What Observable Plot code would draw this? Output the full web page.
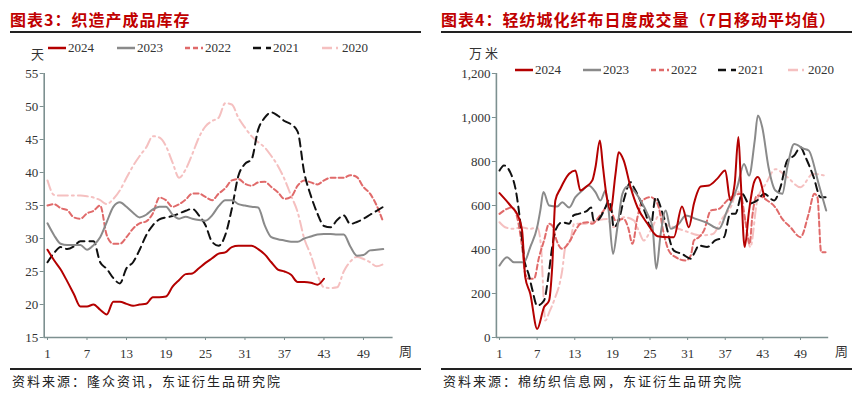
<!DOCTYPE html>
<html>
<head>
<meta charset="utf-8">
<script src="https://cdn.jsdelivr.net/npm/d3@7"></script>
<script src="https://cdn.jsdelivr.net/npm/@observablehq/plot@0.6"></script>
<style>
  html, body { margin: 0; padding: 0; background: #fff; }
  body { width: 862px; height: 396px; position: relative; overflow: hidden; }
  .panel { position: absolute; top: 0; width: 431px; height: 396px; }
  .title { position: absolute; top: 8px; left: 10px; font-family: "Noto Sans CJK SC"; font-weight: 700; font-size: 16px; letter-spacing: 1px; color: #c00000; white-space: nowrap; line-height: 22px; }
  .rule { position: absolute; left: 10px; width: 411px; height: 1.5px; background: #222; }
  .caption { position: absolute; top: 372px; left: 12px; font-family: "Noto Sans CJK SC"; font-size: 13px; letter-spacing: 2px; color: #222; white-space: nowrap; line-height: 18px; }
  .plot { position: absolute; top: 36px; left: 0; }
  .unit { position: absolute; font-family: "Noto Sans CJK SC"; font-size: 13px; color: #333; white-space: nowrap; line-height: 16px; }
  .leg { position: absolute; font-family: "Liberation Serif"; font-size: 13px; color: #333; white-space: nowrap; line-height: 16px; display: flex; align-items: center; }
  .leg svg { margin-right: 2px; }
</style>
</head>
<body>
<div class="panel" id="p1" style="left:0">
  <div class="title">图表3：织造产成品库存</div>
  <div class="rule" style="top:31px"></div>
  <div class="plot" id="plot1"></div>
  <div class="unit" style="left:31px;top:46px">天</div>
  <div class="unit" style="left:399px;top:343px">周</div>
  <div class="rule" style="top:368px"></div>
  <div class="caption">资料来源：隆众资讯，东证衍生品研究院</div>
</div>
<div class="panel" id="p2" style="left:431px">
  <div class="title">图表4：轻纺城化纤布日度成交量（7日移动平均值）</div>
  <div class="rule" style="top:31px"></div>
  <div class="plot" id="plot2"></div>
  <div class="unit" style="left:38px;top:45px;letter-spacing:3px">万米</div>
  <div class="unit" style="left:404px;top:343px">周</div>
  <div class="rule" style="top:368px"></div>
  <div class="caption">资料来源：棉纺织信息网，东证衍生品研究院</div>
</div>
<script>
// ---------- Chart 3: 织造产成品库存 (天) ----------
const invYears = ["2024", "2023", "2022", "2021", "2020"];
const invWeekTicks = [1, 7, 13, 19, 25, 31, 37, 43, 49];
const invYTicks = [15, 20, 25, 30, 35, 40, 45, 50, 55];
const inv2024 = [28.3,26.7,25.3,23.5,21.6,19.7,19.7,20.0,19.2,18.5,20.4,20.4,20.1,19.8,20.0,20.1,21.1,21.1,21.2,22.7,23.7,24.6,24.7,25.5,26.3,27.0,27.7,27.9,28.7,28.9,28.9,28.9,28.4,27.6,26.4,25.3,25.0,24.5,23.4,23.4,23.3,23.0,23.9];
const inv2023 = [32.3,30.5,29.2,29.0,29.0,29.0,28.3,29.0,30.2,32.5,34.8,35.5,34.8,33.9,33.2,33.6,34.4,34.8,34.8,33.6,33.0,33.3,33.0,32.8,32.7,33.5,34.9,35.8,35.8,35.2,35.0,34.8,34.7,32.0,30.2,29.9,29.7,29.5,29.5,30.0,30.3,30.6,30.7,30.7,30.6,30.6,28.8,27.4,27.5,28.2,28.3,28.4];
const inv2022 = [35.0,35.2,34.6,34.3,33.2,33.0,33.8,34.2,35.0,30.5,29.2,29.2,30.2,31.5,32.3,32.6,33.8,36.2,35.8,34.8,35.2,35.9,36.8,36.8,36.3,35.8,36.8,37.6,38.8,39.0,38.3,38.0,38.5,38.6,37.8,37.0,36.0,36.3,38.0,38.8,38.5,38.2,38.8,39.2,39.2,39.2,39.6,39.3,37.8,36.8,35.0,32.5];
const inv2021 = [26.4,27.8,28.7,28.4,28.8,29.6,29.6,29.6,26.4,25.4,24.0,23.2,25.5,26.4,28.3,30.5,32.0,32.9,33.2,33.4,33.8,34.2,34.5,33.5,32.0,29.5,28.9,30.5,34.5,39.5,41.3,42.0,46.5,48.3,49.1,48.6,47.8,47.3,46.2,40.0,36.5,33.8,31.9,31.7,32.8,33.5,32.2,32.5,33.0,33.6,34.2,34.8];
const inv2020 = [38.8,36.6,36.5,36.5,36.5,36.5,36.4,36.2,35.8,35.2,36.0,37.3,39.2,41.0,42.5,43.8,45.5,45.3,44.0,41.5,39.2,40.5,42.8,45.3,47.0,47.8,48.3,50.5,50.3,48.3,46.8,45.5,44.6,43.8,42.5,41.0,39.0,36.5,34.0,30.0,27.5,24.5,22.6,22.5,22.6,25.0,26.5,27.2,26.9,26.4,25.8,26.1];

// ---------- Chart 4: 轻纺城化纤布日度成交量 (万米) ----------
const volYTicks = [0, 200, 400, 600, 800, 1000, 1200];
const volWeekTicks = [1, 7, 13, 19, 25, 31, 37, 43, 49];
const vol2024W = [1,2.5,3,3.8,4.6,5.1,5.9,7,8.1,8.9,9.4,9.9,10.7,12.1,13.1,13.9,14.7,15.8,16.3,17,17.5,18.1,18.7,19.5,20,20.8,21.9,23,24.6,26.2,28,28.8,30.1,31.2,32,33.1,34.4,35.7,37,37.8,38.5,39.1,39.5,40.1,40.8,41.6,42.2,43.2];
const vol2024V = [656,608,591,562,486,274,199,39,138,168,320,623,676,744,759,668,683,714,774,895,774,638,577,744,842,805,683,592,517,460,456,456,595,501,608,686,691,721,759,623,698,911,698,411,577,706,729,640];
const vol2023W = [1,2.2,3.3,4.9,5.9,7,7.5,8,8.9,10.2,11,12.1,13.1,14.2,15.2,16.3,17.1,17.9,18.4,19.1,19.8,20.6,21.4,22.4,23.5,24.6,25.4,26,26.7,27.5,28.3,29.6,30.7,32.3,33.9,36,37.3,38.9,40,40.8,41.7,42.2,42.9,43.9,45,46.1,46.9,48,49.5,50.3,51.9,53.1];
const vol2023V = [327,365,342,342,411,501,577,661,600,595,615,591,638,668,691,661,623,668,577,380,501,653,686,668,623,562,501,312,471,577,494,517,555,539,524,494,577,683,789,736,895,1009,956,774,668,653,774,880,858,850,698,577];
const vol2022W = [1,2.2,3,3.8,4.6,5.1,5.7,6.5,7.3,8.1,8.9,9.4,10.1,11,12.1,13.1,13.9,15,15.8,16.6,17.6,18.4,19.5,20.8,21.5,22.2,23,23.8,25.1,25.9,26.4,27.2,28,29.1,30.7,31.5,32,32.8,33.6,34.7,36,37.3,38.4,39.4,40.2,40.9,41.3,42.1,43.7,45,46.1,47.4,49,50.3,51.2,51.7,52.3,53];
const vol2022V = [562,585,591,547,411,289,267,267,365,441,517,509,441,403,433,486,517,524,517,539,577,608,532,539,501,426,547,623,638,623,591,471,395,365,350,373,441,456,486,577,585,623,646,653,532,426,547,646,623,591,539,501,456,562,653,638,388,388];
const vol2021W = [1,1.7,2.7,3.6,4.4,4.9,5.7,6.2,7,8.1,8.7,9.4,9.9,11,12.1,12.8,13.6,15,15.6,16,16.5,17.9,18.4,18.8,19.2,20,20.8,21.9,22.4,23.2,24.3,25.1,25.9,27.2,28.8,30.1,31.5,32,32.8,34.1,35.4,36.8,37.8,38.6,39.7,40.8,42.1,43.2,44.8,45.8,46.9,48,49,49.8,51.1,52.2,53];
const vol2021V = [759,782,751,668,501,365,282,221,145,168,259,411,486,524,517,555,562,577,591,532,532,592,623,591,501,532,623,706,683,638,562,501,638,547,395,380,358,380,418,411,441,456,562,562,653,608,623,653,623,683,805,827,865,820,729,638,638];
const vol2020W = [1,2,3.3,4.4,5.9,7,7.6,8.3,9,9.7,11,11.5,12.3,12.9,14.4,16.5,18.1,19.2,20.8,22.4,23.2,24,25.1,26.7,27.4,29,31,33,35,36.5,38,38.9,40,41,42.1,43.5,45,46.9,49,51,53];
const vol2020V = [524,500,494,501,494,501,420,77,120,168,305,411,441,517,517,532,539,501,547,532,486,441,486,562,517,500,480,464,470,540,600,668,560,411,623,700,765,729,683,744,735];

const colors = {"2024": "#b40000", "2023": "#8a8a8a", "2022": "#e06a6a", "2021": "#111111", "2020": "#f5c0c0"};
const dashes = {"2024": null, "2023": null, "2022": "5,3", "2021": "8,5", "2020": "10,4,2,4"};
const axisColor = "#7d9090";

function weekly(arr, year) { return arr.map((v, i) => ({week: i + 1, value: v, year})); }
function paired(ws, vs, year) { return ws.map((w, i) => ({week: w, value: vs[i], year})); }

const invData = {"2024": weekly(inv2024, "2024"), "2023": weekly(inv2023, "2023"), "2022": weekly(inv2022, "2022"), "2021": weekly(inv2021, "2021"), "2020": weekly(inv2020, "2020")};
const volData = {"2024": paired(vol2024W, vol2024V, "2024"), "2023": paired(vol2023W, vol2023V, "2023"), "2022": paired(vol2022W, vol2022V, "2022"), "2021": paired(vol2021W, vol2021V, "2021"), "2020": paired(vol2020W, vol2020V, "2020")};

const drawOrder = ["2020", "2022", "2021", "2023", "2024"];

function lineMarks(dataByYear) {
  return drawOrder.map(y => Plot.line(dataByYear[y], {
    x: "week", y: "value", stroke: colors[y], strokeWidth: 2,
    strokeDasharray: dashes[y] || undefined, curve: "monotone-x"
  }));
}

function makePlot(opts) {
  return Plot.plot({
    width: 431, height: 330,
    marginTop: 37, marginBottom: 29, marginLeft: opts.ml, marginRight: opts.mr,
    x: {domain: [0.5, 53.5]},
    y: {domain: opts.yDomain},
    style: {fontFamily: "Liberation Serif", fontSize: "13px", color: "#333", background: "transparent"},
    marks: [
      Plot.axisY({ticks: opts.yTicks, tickSize: 4, tickPadding: 2, label: null, stroke: axisColor, fill: "#333", tickFormat: opts.fmt}),
      Plot.axisX({ticks: opts.xTicks, tickSize: 3, tickPadding: 8, label: null, stroke: axisColor, fill: "#333"}),
      ...lineMarks(opts.data),
      Plot.ruleX([0.5], {stroke: axisColor, strokeWidth: 1.6}),
      Plot.ruleY([opts.yDomain[0]], {stroke: axisColor, strokeWidth: 1.6})
    ]
  });
}

document.getElementById("plot1").append(makePlot({
  ml: 43.7, mr: 38.4, yDomain: [15, 55], yTicks: invYTicks, xTicks: invWeekTicks, data: invData, fmt: d3.format("d")
}));
document.getElementById("plot2").append(makePlot({
  ml: 64.9, mr: 33.8, yDomain: [0, 1200], yTicks: volYTicks, xTicks: volWeekTicks, data: volData, fmt: d3.format(",")
}));

function legend(panelId, starts, top) {
  const panel = document.getElementById(panelId);
  invYears.forEach((y, i) => {
    const div = document.createElement("div");
    div.className = "leg";
    div.style.left = starts[i] + "px";
    div.style.top = (top - 8) + "px";
    const dash = dashes[y] ? `stroke-dasharray="${y === "2021" ? "8,5" : y === "2020" ? "10,4,2,4" : "5,3"}"` : "";
    div.innerHTML = `<svg width="18" height="6"><line x1="0" y1="3" x2="18" y2="3" stroke="${colors[y]}" stroke-width="2.5" ${dash}/></svg><span>${y}</span>`;
    panel.append(div);
  });
}
legend("p1", [48, 117, 185, 253, 322], 48);
legend("p2", [84, 152, 220, 287, 357], 70);
</script>
</body>
</html>
